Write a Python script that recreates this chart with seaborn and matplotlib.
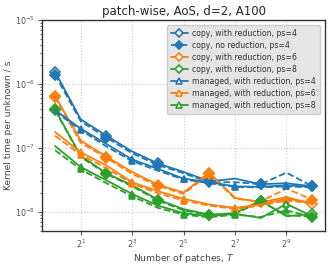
import numpy as np
import pandas as pd
import matplotlib
matplotlib.use("Agg")
import matplotlib.pyplot as plt
import seaborn as sns
from matplotlib.ticker import FixedLocator, LogFormatterSciNotation, NullLocator

# ---- data -------------------------------------------------------------
T = [1, 2, 4, 8, 16, 32, 64, 128, 256, 512, 1024]

copy_red_4    = [1.55e-6, 2.8e-7, 1.55e-7, 8.8e-8, 5.7e-8, 4.2e-8, 3.0e-8, 3.3e-8, 2.7e-8, 2.8e-8, 2.5e-8]
copy_nored_4  = [1.4e-6, 2.6e-7, 1.45e-7, 8.2e-8, 5.4e-8, 4.0e-8, 2.9e-8, 2.9e-8, 2.7e-8, 4.1e-8, 2.5e-8]
managed_red_4   = [3.9e-7, 2.0e-7, 1.15e-7, 6.6e-8, 4.7e-8, 3.3e-8, 2.9e-8, 2.5e-8, 2.45e-8, 2.6e-8, 2.45e-8]
managed_nored_4 = [3.7e-7, 1.9e-7, 1.05e-7, 6.2e-8, 4.4e-8, 3.2e-8, 2.8e-8, 2.45e-8, 2.4e-8, 2.5e-8, 2.4e-8]

copy_red_6    = [6.5e-7, 1.3e-7, 7.3e-8, 4.2e-8, 2.65e-8, 2.0e-8, 4.1e-8, 1.65e-8, 1.4e-8, 1.7e-8, 1.3e-8]
copy_nored_6  = [6.3e-7, 1.2e-7, 7.0e-8, 3.9e-8, 2.55e-8, 1.9e-8, 3.9e-8, 1.6e-8, 1.45e-8, 2.3e-8, 1.55e-8]
managed_red_6   = [1.78e-7, 8.5e-8, 5.3e-8, 2.9e-8, 2.1e-8, 1.6e-8, 1.3e-8, 1.15e-8, 1.3e-8, 1.6e-8, 1.4e-8]
managed_nored_6 = [1.55e-7, 7.8e-8, 4.8e-8, 2.75e-8, 1.95e-8, 1.5e-8, 1.25e-8, 1.1e-8, 1.25e-8, 1.5e-8, 1.35e-8]

copy_red_8    = [4.0e-7, 7.5e-8, 4.0e-8, 2.6e-8, 1.55e-8, 1.1e-8, 9.0e-9, 9.5e-9, 1.5e-8, 8.5e-9, 9.2e-9]
copy_nored_8  = [3.9e-7, 7.2e-8, 3.9e-8, 2.5e-8, 1.5e-8, 1.05e-8, 8.8e-9, 9.3e-9, 1.45e-8, 8.8e-9, 8.4e-9]
managed_red_8   = [1.07e-7, 5.0e-8, 3.1e-8, 1.9e-8, 1.25e-8, 9.5e-9, 8.5e-9, 9.3e-9, 8.0e-9, 1.33e-8, 8.5e-9]
managed_nored_8 = [9.2e-8, 4.6e-8, 2.8e-8, 1.75e-8, 1.15e-8, 9.0e-9, 8.2e-9, 9.0e-9, 8.3e-9, 1.05e-8, 8.3e-9]

labels = {
    "cr4": "copy, with reduction, ps=4",
    "cn4": "copy, no reduction, ps=4",
    "cr6": "copy, with reduction, ps=6",
    "cr8": "copy, with reduction, ps=8",
    "mr4": "managed, with reduction, ps=4",
    "mr6": "managed, with reduction, ps=6",
    "mr8": "managed, with reduction, ps=8",
}

# ---- figure -----------------------------------------------------------
sns.set_style("ticks")
plt.rcParams["font.family"] = ["DejaVu Sans"]

fig = plt.figure(figsize=(3.32, 2.64), dpi=100)
ax = fig.add_axes([0.127, 0.125, 0.852, 0.799])

blue, orange, green = "#1f77b4", "#ff7f0e", "#2ca02c"
even = list(range(0, 11, 2))
odd = list(range(1, 11, 2))

series = [
    (copy_red_4, blue, "-", "D", "white", even, "cr4"),
    (copy_nored_4, blue, "--", "D", blue, even, "cn4"),
    (copy_red_6, orange, "-", "D", "white", even, "cr6"),
    (copy_nored_6, orange, "--", "D", orange, even, None),
    (copy_red_8, green, "-", "D", "white", even, "cr8"),
    (copy_nored_8, green, "--", "D", green, even, None),
    (managed_red_4, blue, "-", "^", "white", odd, "mr4"),
    (managed_nored_4, blue, "--", "^", blue, odd, None),
    (managed_red_6, orange, "-", "^", "white", odd, "mr6"),
    (managed_nored_6, orange, "--", "^", orange, odd, None),
    (managed_red_8, green, "-", "^", "white", odd, "mr8"),
    (managed_nored_8, green, "--", "^", green, odd, None),
]

handles = {}
for vals, col, ls, mk, mfc, me, key in series:
    df = pd.DataFrame({"T": T, "t": vals})
    before = len(ax.lines)
    sns.lineplot(data=df, x="T", y="t", ax=ax, color=col, linestyle=ls,
                 marker=mk, markevery=me, markersize=4.8, markeredgewidth=1.2,
                 markerfacecolor=mfc, markeredgecolor=col, linewidth=1.3,
                 legend=False, errorbar=None)
    if key is not None:
        handles[key] = ax.lines[before]

ax.set_xscale("log", base=2)
ax.set_yscale("log")
ax.set_ylim(5e-9, 1e-5)
ax.set_xlim(2 ** -0.5, 2 ** 10.5)

ax.xaxis.set_major_locator(FixedLocator([2, 8, 32, 128, 512]))
ax.xaxis.set_major_formatter(LogFormatterSciNotation(base=2))
ax.xaxis.set_minor_locator(NullLocator())

ax.grid(True, which="major", linestyle=":", color="#cccccc", linewidth=0.8)
ax.set_axisbelow(True)

for s in ax.spines.values():
    s.set_color("#333333")
    s.set_linewidth(1.0)

ax.tick_params(axis="both", which="major", labelsize=5.8, colors="#555555",
               length=3, width=0.8, pad=2)
ax.tick_params(axis="y", which="minor", length=1.8, width=0.6, colors="#555555")

ax.set_xlabel("Number of patches, $T$", fontsize=6.6, color="#444444", labelpad=1.5)
ax.set_ylabel("Kernel time per unknown / s", fontsize=6.6, color="#444444", labelpad=1.5)
ax.set_title("patch-wise, AoS, d=2, A100", fontsize=8.5, pad=4)

order = ["cr4", "cn4", "cr6", "cr8", "mr4", "mr6", "mr8"]
leg = ax.legend([handles[k] for k in order], [labels[k] for k in order],
                loc="upper right", fontsize=5.6, frameon=True,
                facecolor="#e5e5e5", edgecolor="#cccccc", framealpha=1.0,
                handlelength=2.2, borderpad=0.45, labelspacing=0.4,
                handletextpad=0.6, bbox_to_anchor=(0.995, 0.995),
                markerscale=0.9)
for t in leg.get_texts():
    t.set_color("#333333")

fig.savefig("out.png", dpi=100)
